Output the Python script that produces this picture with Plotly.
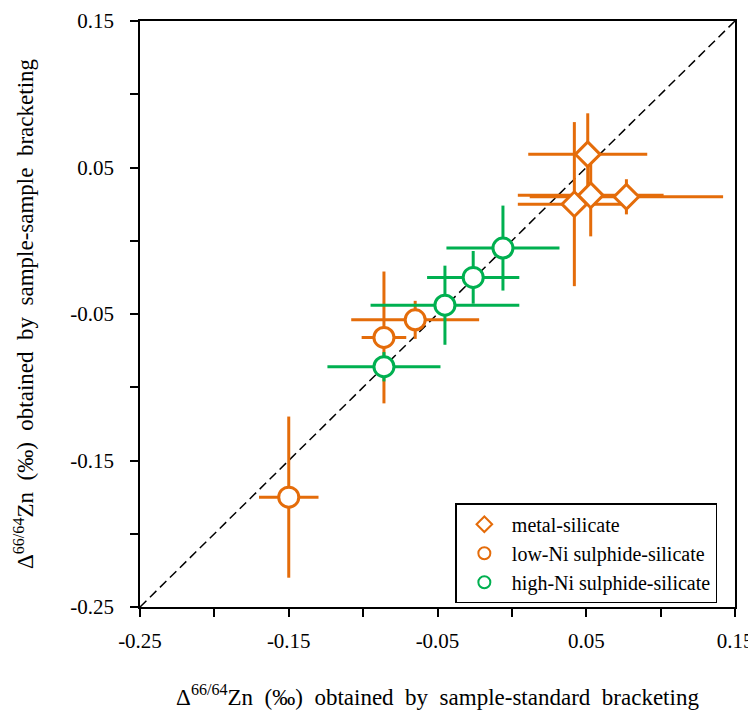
import plotly.graph_objects as go

# metal-silicate (diamonds)
metal_x = [0.051, 0.053, 0.042, 0.077]
metal_y = [0.059, 0.031, 0.025, 0.030]
metal_xerr = [0.040, 0.049, 0.038, 0.065]
metal_yerr = [0.028, 0.028, 0.056, 0.012]

# low-Ni sulphide-silicate (orange circles)
lowni_x = [-0.086, -0.065, -0.150]
lowni_y = [-0.066, -0.054, -0.175]
lowni_xerr = [0.015, 0.043, 0.020]
lowni_yerr = [0.045, 0.013, 0.055]

# high-Ni sulphide-silicate (green circles)
highni_x = [-0.006, -0.026, -0.045, -0.086]
highni_y = [-0.005, -0.025, -0.044, -0.086]
highni_xerr = [0.038, 0.031, 0.050, 0.038]
highni_yerr = [0.029, 0.018, 0.027, 0.010]

# 1:1 reference line
line_x = [-0.25, 0.15]
line_y = [-0.25, 0.15]

tick_vals = [-0.25, -0.20, -0.15, -0.10, -0.05, 0.00, 0.05, 0.10, 0.15]
tick_text = ["-0.25", "", "-0.15", "", "-0.05", "", "0.05", "", "0.15"]

ORANGE = "#E46C0A"
GREEN = "#00B050"
FONT = "Liberation Serif"
S = "\u00a0"

fig = go.Figure()

fig.add_trace(go.Scatter(
    x=line_x, y=line_y, mode="lines",
    line=dict(color="black", width=1.5, dash="9px,5px"),
    showlegend=False, hoverinfo="skip"))

def add_series(xs, ys, xe, ye, color, symbol, size, name):
    fig.add_trace(go.Scatter(
        x=xs, y=ys, mode="markers", name=name,
        marker=dict(symbol=symbol, size=size, color="white",
                    line=dict(color=color, width=3)),
        error_x=dict(type="data", array=xe, color=color, thickness=3, width=0),
        error_y=dict(type="data", array=ye, color=color, thickness=3, width=0),
    ))

add_series(metal_x, metal_y, metal_xerr, metal_yerr, ORANGE, "diamond", 19, "metal-silicate")
add_series(lowni_x, lowni_y, lowni_xerr, lowni_yerr, ORANGE, "circle", 20, "low-Ni sulphide-silicate")
add_series(highni_x, highni_y, highni_xerr, highni_yerr, GREEN, "circle", 20, "high-Ni sulphide-silicate")

axis_common = dict(
    tickmode="array", tickvals=tick_vals, ticktext=tick_text,
    ticks="outside", ticklen=8, tickwidth=1.5, tickcolor="black",
    showline=True, linecolor="black", linewidth=1.5, mirror=True,
    showgrid=False, zeroline=False, automargin=False,
    ticklabeloverflow="allow",
    tickfont=dict(family=FONT, size=21, color="black"),
)

xtitle = (S*6 + "Δ<sup>66/64</sup>Zn" + S*2 + "(‰)" + S*2 + "obtained" + S*2 + "by" + S*2
          + "sample-standard" + S*2 + "bracketing")
ytitle = ("Δ<sup>66/64</sup>Zn" + S*2 + "(‰)" + S*2 + "obtained" + S*2 + "by" + S*2
          + "sample-sample" + S*2 + "bracketing")

fig.update_layout(
    width=748, height=702,
    margin=dict(l=132, r=21, t=13, b=103),
    paper_bgcolor="white", plot_bgcolor="white",
    font=dict(family=FONT, color="black"),
    xaxis=dict(range=[-0.25, 0.15], **axis_common, ticklabelstandoff=6,
               title=dict(text=xtitle, font=dict(family=FONT, size=23), standoff=41)),
    yaxis=dict(range=[-0.25, 0.15], **axis_common, ticklabelstandoff=12,
               title=dict(text=ytitle, font=dict(family=FONT, size=23), standoff=30)),
    legend=dict(x=0.53, y=0.177, xanchor="left", yanchor="top",
                bordercolor="black", borderwidth=1.5, bgcolor="white",
                font=dict(family=FONT, size=20), itemsizing="constant",
                itemwidth=45, tracegroupgap=0),
    showlegend=True,
)

fig.write_html("out.html")
